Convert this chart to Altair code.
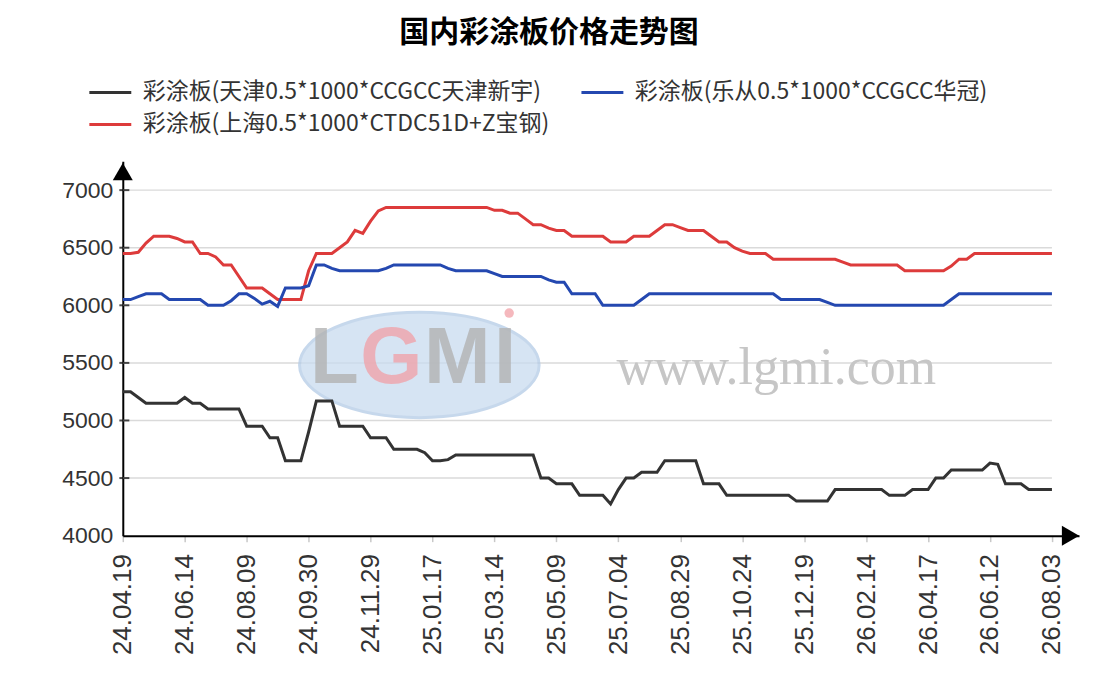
import altair as alt
import pandas as pd

title_text = "国内彩涂板价格走势图"
series_names = [
    "彩涂板(天津0.5*1000*CCGCC天津新宇)",
    "彩涂板(上海0.5*1000*CTDC51D+Z宝钢)",
    "彩涂板(乐从0.5*1000*CCGCC华冠)",
]
series_colors = ["#333333", "#dd3b3b", "#2448b0"]

tick_labels = ["24.04.19", "24.06.14", "24.08.09", "24.09.30", "24.11.29", "25.01.17",
               "25.03.14", "25.05.09", "25.07.04", "25.08.29", "25.10.24", "25.12.19",
               "26.02.14", "26.04.17", "26.06.12", "26.08.03"]

tianjin = [
    5250, 5250, 5200, 5150, 5150, 5150, 5150, 5150, 5200, 5150,
    5150, 5100, 5100, 5100, 5100, 5100, 4950, 4950, 4950, 4850,
    4850, 4650, 4650, 4650, 4900, 5170, 5170, 5170, 4950, 4950,
    4950, 4950, 4850, 4850, 4850, 4750, 4750, 4750, 4750, 4720,
    4650, 4650, 4660, 4700, 4700, 4700, 4700, 4700, 4700, 4700,
    4700, 4700, 4700, 4700, 4500, 4500, 4450, 4450, 4450, 4350,
    4350, 4350, 4350, 4275, 4400, 4500, 4500, 4550, 4550, 4550,
    4650, 4650, 4650, 4650, 4650, 4450, 4450, 4450, 4350, 4350,
    4350, 4350, 4350, 4350, 4350, 4350, 4350, 4300, 4300, 4300,
    4300, 4300, 4400, 4400, 4400, 4400, 4400, 4400, 4400, 4350,
    4350, 4350, 4400, 4400, 4400, 4500, 4500, 4570, 4570, 4570,
    4570, 4570, 4630, 4620, 4450, 4450, 4450, 4400, 4400, 4400,
    4400,
]
shanghai = [
    6450, 6450, 6460, 6540, 6600, 6600, 6600, 6580, 6550, 6550,
    6450, 6450, 6420, 6350, 6350, 6250, 6150, 6150, 6150, 6100,
    6050, 6050, 6050, 6050, 6300, 6450, 6450, 6450, 6500, 6550,
    6650, 6625, 6730, 6820, 6850, 6850, 6850, 6850, 6850, 6850,
    6850, 6850, 6850, 6850, 6850, 6850, 6850, 6850, 6825, 6825,
    6800, 6800, 6750, 6700, 6700, 6670, 6650, 6650, 6600, 6600,
    6600, 6600, 6600, 6550, 6550, 6550, 6600, 6600, 6600, 6650,
    6700, 6700, 6675, 6650, 6650, 6650, 6600, 6550, 6550, 6500,
    6470, 6450, 6450, 6450, 6400, 6400, 6400, 6400, 6400, 6400,
    6400, 6400, 6400, 6375, 6350, 6350, 6350, 6350, 6350, 6350,
    6350, 6300, 6300, 6300, 6300, 6300, 6300, 6340, 6400, 6400,
    6450, 6450, 6450, 6450, 6450, 6450, 6450, 6450, 6450, 6450,
    6450,
]
lecong = [
    6050, 6050, 6075, 6100, 6100, 6100, 6050, 6050, 6050, 6050,
    6050, 6000, 6000, 6000, 6040, 6100, 6100, 6060, 6010, 6035,
    5990, 6150, 6150, 6150, 6170, 6350, 6350, 6320, 6300, 6300,
    6300, 6300, 6300, 6300, 6320, 6350, 6350, 6350, 6350, 6350,
    6350, 6350, 6320, 6300, 6300, 6300, 6300, 6300, 6275, 6250,
    6250, 6250, 6250, 6250, 6250, 6220, 6200, 6200, 6100, 6100,
    6100, 6100, 6000, 6000, 6000, 6000, 6000, 6050, 6100, 6100,
    6100, 6100, 6100, 6100, 6100, 6100, 6100, 6100, 6100, 6100,
    6100, 6100, 6100, 6100, 6100, 6050, 6050, 6050, 6050, 6050,
    6050, 6025, 6000, 6000, 6000, 6000, 6000, 6000, 6000, 6000,
    6000, 6000, 6000, 6000, 6000, 6000, 6000, 6050, 6100, 6100,
    6100, 6100, 6100, 6100, 6100, 6100, 6100, 6100, 6100, 6100,
    6100,
]

y_ticks = [4000, 4500, 5000, 5500, 6000, 6500, 7000]
grid_y = [4500, 5000, 5500, 6000, 6500, 7000]

rows = []
for name, vals in zip(series_names, [tianjin, shanghai, lecong]):
    for i, v in enumerate(vals):
        rows.append({"idx": i, "price": v, "series": name})
df = pd.DataFrame(rows)

n_last = len(tianjin) - 1
label_step = n_last // (len(tick_labels) - 1)
tick_idx = [i * label_step for i in range(len(tick_labels))]
label_expr = "[" + ",".join("'%s'" % t for t in tick_labels) + "][round(datum.value/%d)]" % label_step

x_scale = alt.Scale(domain=[0, 123.5], nice=False, zero=False)
y_scale = alt.Scale(domain=[4000, 7250], nice=False, zero=False)

x_axis = alt.Axis(values=tick_idx, labelExpr=label_expr, labelAngle=270, labelFontSize=26,
                  labelFont="Liberation Sans", labelColor="#333333", tickColor="#c8c8c8",
                  tickSize=6, tickWidth=1.5, labelPadding=12, domainColor="#000000",
                  domainWidth=2, grid=False, title=None, labelOverlap=False, labelBound=False)
y_axis = alt.Axis(values=y_ticks, format="d", labelFontSize=23, labelFont="Liberation Sans",
                  labelColor="#333333", ticks=False, labelPadding=10, domainColor="#000000",
                  domainWidth=2, grid=False, title=None)


def X(**kw):
    return alt.X(scale=x_scale, axis=x_axis, **kw)


def Y(**kw):
    return alt.Y(scale=y_scale, axis=y_axis, **kw)


one = pd.DataFrame({"k": [0]})
grid_df = pd.DataFrame({"g": grid_y})
grid = alt.Chart(grid_df).mark_rule(color="#dadada", strokeWidth=1.5).encode(
    y=Y(field="g", type="quantitative"),
    x=X(datum=0, type="quantitative"),
    x2=alt.X2(datum=n_last),
)

# watermark (LGMI logo + url)
logo_x, logo_y = 38.3, 5482
url_x, url_y = 84.4, 5456
ellipse_path = "M-1,0A1,0.44 0 1,0 1,0A1,0.44 0 1,0 -1,0Z"
ellipse = alt.Chart(one).mark_point(
    shape=ellipse_path, size=57600, filled=True, fill="#c9dbef", stroke="#b4cbe6",
    strokeWidth=3, opacity=0.75
).encode(x=X(datum=logo_x, type="quantitative"), y=Y(datum=logo_y, type="quantitative"))


def letter(ch, dx, color):
    return alt.Chart(one).mark_text(
        text=ch, dx=dx, dy=-6, fontSize=80, font="Liberation Sans", fontWeight="bold",
        color=color, opacity=0.8, align="center", baseline="middle"
    ).encode(x=X(datum=logo_x, type="quantitative"), y=Y(datum=logo_y, type="quantitative"))


letters = [letter("L", -85, "#b3b3b3"), letter("G", -28, "#f0a4ab"),
           letter("M", 38, "#b3b3b3"), letter("I", 86, "#b3b3b3")]
dot = alt.Chart(one).mark_point(
    shape="circle", size=90, filled=True, color="#f4b0b6", opacity=0.9, xOffset=90, yOffset=-52
).encode(x=X(datum=logo_x, type="quantitative"), y=Y(datum=logo_y, type="quantitative"))
url = alt.Chart(one).mark_text(
    text="www.lgmi.com", fontSize=52, font="Liberation Serif", color="#c6c6c6",
    align="center", baseline="middle"
).encode(x=X(datum=url_x, type="quantitative"), y=Y(datum=url_y, type="quantitative"))

lines = alt.Chart(df).mark_line(strokeWidth=3).encode(
    x=X(field="idx", type="quantitative"),
    y=Y(field="price", type="quantitative"),
    color=alt.Color(
        "series:N",
        scale=alt.Scale(domain=series_names, range=series_colors),
        sort=series_names,
        legend=alt.Legend(
            title=None, orient="none", legendX=-24.5, legendY=-81, columns=2,
            symbolType="M-2,0L2,0", symbolSize=441, symbolStrokeWidth=3,
            labelFontSize=23, labelFont="Noto Sans CJK SC", labelColor="#333333",
            labelOffset=20.5, columnPadding=26, rowPadding=8, padding=0, labelLimit=800,
        ),
    ),
    detail="series:N",
)

yt_df = pd.DataFrame({"v": y_ticks[1:]})
yticks = alt.Chart(yt_df).mark_tick(orient="horizontal", size=10, thickness=2, color="#000000").encode(
    y=Y(field="v", type="quantitative"),
    x=X(datum=0.2, type="quantitative"),
)

arrow_up = alt.Chart(one).mark_point(shape="triangle-up", size=400, filled=True,
                                     color="#000000", opacity=1).encode(
    x=X(datum=0, type="quantitative"), y=Y(datum=7160, type="quantitative"))
arrow_right = alt.Chart(one).mark_point(shape="triangle-right", size=400, filled=True,
                                        color="#000000", opacity=1).encode(
    x=X(datum=122.4, type="quantitative"), y=Y(datum=4000, type="quantitative"))

chart = alt.layer(
    grid, ellipse, *letters, dot, url, lines, yticks, arrow_up, arrow_right
).properties(
    width=958,
    height=375,
    background="white",
    padding={"left": 115, "top": 153, "right": 20, "bottom": 140},
    autosize=alt.AutoSizeParams(type="none"),
    title=alt.Title(text=title_text, font="Noto Sans CJK SC", fontSize=30, fontWeight="bold",
                    color="#000000", anchor="middle", dx=-52, dy=-29),
).configure_view(stroke="transparent", strokeWidth=0)

chart.save("out.html", embed_options={"renderer": "svg", "actions": False})
